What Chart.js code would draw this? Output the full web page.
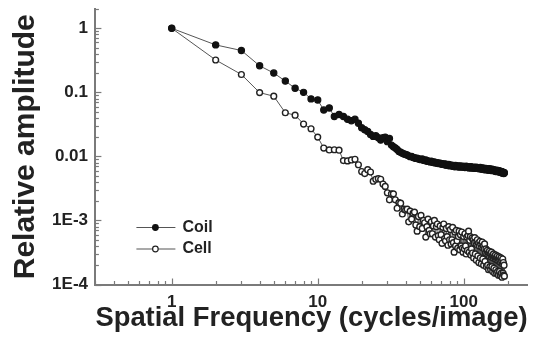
<!DOCTYPE html>
<html>
<head>
<meta charset="utf-8">
<script src="https://cdn.jsdelivr.net/npm/chart.js@4/dist/chart.umd.min.js"></script>
<style>
  html, body { margin:0; padding:0; background:#fff; }
  #wrap { width:533px; height:341px; position:relative; }
</style>
</head>
<body>
<div id="wrap"><canvas id="c"></canvas></div>
<script>
// --- DATA ---
const freqs = [
  1,2,3,4,5,6,7,8,9,10, 11,12,13,14,15,16,17,18,19,20,
  21,22,23,24,25,26,27,28,29,30, 31,32,33,34,35,36,37,38,39,40,
  41,42,43,44,45,46,47,48,49,50, 51,52,53,54,55,56,57,58,59,60,
  61,62,63,64,65,66,67,68,69,70, 71,72,73,74,75,76,77,78,79,80,
  81,82,83,84,85,86,87,88,89,90, 91,92,93,94,95,96,97,98,99,100,
  101,102,103,104,105,106,107,108,109,110, 111,112,113,114,115,116,117,118,119,120,
  121,122,123,124,125,126,127,128,129,130, 131,132,133,134,135,136,137,138,139,140,
  141,142,143,144,145,146,147,148,149,150, 151,152,153,154,155,156,157,158,159,160,
  161,162,163,164,165,166,167,168,169,170, 171,172,173,174,175,176,177,178,179,180,
  181,182,183,184,185,186,187,188,189,190
];

const coilAmp = [
  1, 0.55, 0.45, 0.26, 0.20, 0.15, 0.116, 0.10, 0.079, 0.076,
  0.053, 0.057, 0.042, 0.045, 0.042, 0.038, 0.036, 0.038, 0.033, 0.028,
  0.026, 0.0245, 0.022, 0.0205, 0.021, 0.0195, 0.018, 0.0195, 0.020, 0.017,
  0.019, 0.015, 0.0142, 0.0135, 0.0128, 0.0119, 0.0116, 0.0112, 0.0109, 0.0107,
  0.0105, 0.0102, 0.0099, 0.0100, 0.0096, 0.0095, 0.0093, 0.0094, 0.0091, 0.0090,
  0.0089, 0.0091, 0.0087, 0.0086, 0.0088, 0.0084, 0.0085, 0.0083, 0.0082, 0.0084,
  0.0081, 0.0080, 0.0082, 0.0079, 0.0080, 0.0078, 0.0079, 0.0077, 0.0078, 0.0076,
  0.0077, 0.0075, 0.0076, 0.0074, 0.0076, 0.0073, 0.0074, 0.0072, 0.0075, 0.0073,
  0.0071, 0.0073, 0.0072, 0.0070, 0.0072, 0.0071, 0.0069, 0.0072, 0.0070, 0.0071,
  0.0069, 0.0070, 0.0068, 0.0071, 0.0069, 0.0070, 0.0068, 0.0069, 0.0070, 0.0068,
  0.0069, 0.0067, 0.0069, 0.0070, 0.0068, 0.0067, 0.0069, 0.0068, 0.0066, 0.0068,
  0.0067, 0.0069, 0.0066, 0.0067, 0.0068, 0.0066, 0.0067, 0.0065, 0.0067, 0.0066,
  0.0068, 0.0065, 0.0066, 0.0067, 0.0065, 0.0066, 0.0064, 0.0066, 0.0065, 0.0067,
  0.0064, 0.0065, 0.0063, 0.0065, 0.0064, 0.0066, 0.0063, 0.0064, 0.0062, 0.0064,
  0.0063, 0.0065, 0.0062, 0.0063, 0.0064, 0.0062, 0.0063, 0.0061, 0.0063, 0.0062,
  0.0064, 0.0061, 0.0062, 0.0060, 0.0062, 0.0061, 0.0063, 0.0060, 0.0061, 0.0062,
  0.0060, 0.0061, 0.0059, 0.0061, 0.0060, 0.0058, 0.0060, 0.0059, 0.0061, 0.0058,
  0.0059, 0.0060, 0.0058, 0.0059, 0.0057, 0.0059, 0.0058, 0.0057, 0.0058, 0.0056,
  0.0058, 0.0057, 0.0055, 0.0057, 0.0056, 0.0055, 0.0056, 0.0054, 0.0056, 0.0055
];

const cellAmp = [
  1, 0.32, 0.19, 0.099, 0.087, 0.048, 0.044, 0.032, 0.027, 0.020,
  0.0135, 0.0126, 0.0127, 0.0125, 0.0086, 0.0085, 0.0088, 0.0090, 0.0074, 0.0058,
  0.0054, 0.0062, 0.0057, 0.0041, 0.0044, 0.0045, 0.0044, 0.0037, 0.0034, 0.0027,
  0.0021, 0.0026, 0.0026, 0.0021, 0.00155, 0.0019, 0.00186, 0.00126, 0.0015, 0.00145,
  0.0015, 0.00095, 0.0014, 0.00105, 0.0013, 0.00135, 0.00085, 0.00068, 0.00115, 0.0008,
  0.0012, 0.00075, 0.001, 0.00092, 0.00055, 0.0008, 0.00105, 0.0007, 0.00062, 0.00095,
  0.00062, 0.00082, 0.001, 0.00055, 0.0008, 0.00088, 0.00058, 0.0005, 0.00082, 0.0006,
  0.00044, 0.00078, 0.00088, 0.00052, 0.00048, 0.00075, 0.00056, 0.00041, 0.0008, 0.0005,
  0.00072, 0.00043, 0.0005, 0.00078, 0.00045, 0.00032, 0.00066, 0.0004, 0.0007, 0.00048,
  0.00037, 0.00056, 0.00068, 0.00035, 0.0006, 0.0004, 0.00066, 0.00037, 0.00032, 0.00056,
  0.00036, 0.00062, 0.0004, 0.0003, 0.00055, 0.00034, 0.00058, 0.00068, 0.00032, 0.00049,
  0.00056, 0.00029, 0.00036, 0.00053, 0.00031, 0.0005, 0.00026, 0.00045, 0.00054, 0.0003,
  0.00046, 0.00024, 0.00042, 0.0005, 0.00028, 0.00044, 0.00022, 0.0004, 0.00047, 0.00026,
  0.00042, 0.00021, 0.00038, 0.00046, 0.00025, 0.0004, 0.0002, 0.00036, 0.00043, 0.00023,
  0.00031, 0.00036, 0.00019, 0.0003, 0.00034, 0.0002, 0.00031, 0.00017, 0.00028, 0.00033,
  0.00019, 0.0003, 0.00017, 0.00027, 0.00032, 0.00019, 0.00028, 0.00016, 0.00026, 0.0003,
  0.00018, 0.00027, 0.00015, 0.00025, 0.00029, 0.00017, 0.00026, 0.00015, 0.00024, 0.00028,
  0.00016, 0.00025, 0.00014, 0.00023, 0.00027, 0.00016, 0.00024, 0.00014, 0.00022, 0.00026,
  0.00015, 0.00023, 0.00013, 0.00021, 0.00025, 0.00015, 0.00022, 0.00014, 0.0002, 0.000135
];

const seriesNames = ["Coil", "Cell"];
const xMajorTicks = [1, 10, 100];
const xTickLabels = ["1", "10", "100"];
const yMajorTicks = [1e-4, 1e-3, 0.01, 0.1, 1];
const yTickLabels = ["1E-4", "1E-3", "0.01", "0.1", "1"];

const INK = "#222";
const AXIS = "#7a7a7a";
const FONT = "'Liberation Sans', Arial, sans-serif";

function pts(vals){ return freqs.map((f,i) => ({x:f, y:vals[i]})); }

// log ticks: 1..9 x 10^k inside [min,max]
function logTicks(min, max){
  const out = [];
  for(let k = Math.floor(Math.log10(min)); k <= Math.ceil(Math.log10(max)); k++){
    for(let m = 1; m < 10; m++){
      const v = +(m * Math.pow(10, k)).toPrecision(6);
      if(v >= min - 1e-12 && v <= max + 1e-12) out.push({value:v});
    }
  }
  return out;
}
function isMajor(v){ const l = Math.log10(v); return Math.abs(l - Math.round(l)) < 1e-6; }
function labelFor(v, majors, labels){
  const i = majors.findIndex(m => Math.abs(m - v) / m < 1e-6);
  return i >= 0 ? labels[i] : "";
}

// inward tick marks
const inTicks = {
  id:"inTicks",
  afterDraw(chart){
    const {ctx, chartArea, scales} = chart;
    ctx.save();
    ctx.strokeStyle = AXIS;
    ctx.lineWidth = 1.2;
    scales.x.ticks.forEach(t => {
      const px = Math.round(scales.x.getPixelForValue(t.value)) + 0.5;
      const len = isMajor(t.value) ? 6 : 3.5;
      ctx.beginPath(); ctx.moveTo(px, chartArea.bottom); ctx.lineTo(px, chartArea.bottom - len); ctx.stroke();
    });
    scales.y.ticks.forEach(t => {
      const py = Math.round(scales.y.getPixelForValue(t.value)) + 0.5;
      const len = isMajor(t.value) ? 6 : 3.5;
      ctx.beginPath(); ctx.moveTo(chartArea.left, py); ctx.lineTo(chartArea.left + len, py); ctx.stroke();
    });
    ctx.restore();
  }
};

// legend inside the plot, lower left
const innerLegend = {
  id:"innerLegend",
  afterDraw(chart){
    const {ctx, chartArea} = chart;
    const x0 = chartArea.left + 41, x1 = chartArea.left + 80, xm = chartArea.left + 60;
    const rows = [chartArea.top + 218.5, chartArea.top + 240];
    ctx.save();
    chart.data.datasets.forEach((ds, i) => {
      const y = rows[i];
      ctx.strokeStyle = "#555"; ctx.lineWidth = 1.2;
      ctx.beginPath(); ctx.moveTo(x0, y); ctx.lineTo(x1, y); ctx.stroke();
      ctx.beginPath(); ctx.arc(xm, y, 2.8, 0, Math.PI * 2);
      ctx.fillStyle = ds.pointBackgroundColor; ctx.fill();
      ctx.strokeStyle = ds.pointBorderColor; ctx.lineWidth = 1.2; ctx.stroke();
      ctx.fillStyle = INK;
      ctx.font = "bold 16px " + FONT;
      ctx.textBaseline = "middle";
      ctx.fillText(ds.label, x1 + 7, y);
    });
    ctx.restore();
  }
};

new Chart(document.getElementById("c"), {
  type:"scatter",
  data:{
    datasets:[
      {label:seriesNames[0], data:pts(coilAmp), showLine:true,
       borderColor:"#555", borderWidth:1,
       pointRadius:3.1, pointBackgroundColor:"#111", pointBorderColor:"#111", pointBorderWidth:1.2},
      {label:seriesNames[1], data:pts(cellAmp), showLine:true,
       borderColor:"#555", borderWidth:1,
       pointRadius:2.9, pointBackgroundColor:"#fff", pointBorderColor:"#222", pointBorderWidth:1.4}
    ]
  },
  options:{
    responsive:true, maintainAspectRatio:false, animation:false,
    layout:{padding:{top:9, right:0, left:0, bottom:0}},
    plugins:{legend:{display:false}, tooltip:{enabled:false}},
    scales:{
      x:{
        type:"logarithmic", min:0.3, max:274,
        grid:{display:false, drawTicks:false},
        border:{display:true, color:AXIS, width:2},
        afterBuildTicks(s){ s.ticks = logTicks(s.min, s.max); },
        afterFit(s){ s.height = 56.5; s.paddingLeft = 0; s.paddingRight = 0; },
        ticks:{autoSkip:false, maxRotation:0, padding:8, color:INK,
          font:{family:FONT, size:17, weight:"bold"},
          callback:(v) => labelFor(v, xMajorTicks, xTickLabels)},
        title:{display:true, text:"Spatial Frequency (cycles/image)", color:INK,
          font:{family:FONT, size:28.5, weight:"bold", lineHeight:1.2},
          padding:{top:0, bottom:6}}
      },
      y:{
        type:"logarithmic", min:1e-4, max:2,
        grid:{display:false, drawTicks:false},
        border:{display:true, color:AXIS, width:2},
        afterBuildTicks(s){ s.ticks = logTicks(s.min, s.max); },
        afterFit(s){ s.width = 95.4; s.paddingTop = 0; s.paddingBottom = 0; },
        ticks:{autoSkip:false, padding:7.4, color:INK,
          font:{family:FONT, size:17, weight:"bold"},
          callback:(v) => labelFor(v, yMajorTicks, yTickLabels)},
        title:{display:true, text:"Relative amplitude", color:INK,
          font:{family:FONT, size:30, weight:"bold", lineHeight:1.2},
          padding:{top:8, bottom:0}}
      }
    }
  },
  plugins:[inTicks, innerLegend]
});
</script>
</body>
</html>
